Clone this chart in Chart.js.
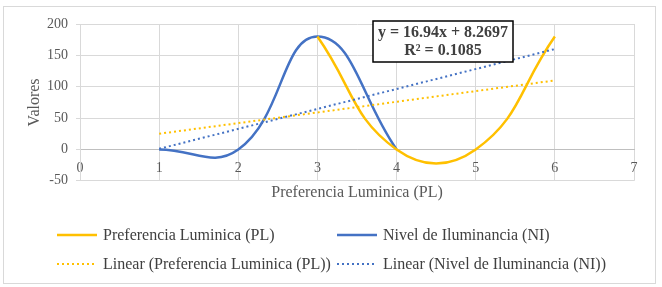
<!DOCTYPE html>
<html>
<head>
<meta charset="utf-8">
<script src="https://cdn.jsdelivr.net/npm/chart.js@4"></script>
<style>
  html, body { margin: 0; padding: 0; background: #fff; }
  #wrap { width: 662px; height: 287px; }
</style>
</head>
<body>
<div id="wrap"><canvas id="lumChart" width="662" height="287"></canvas></div>
<script>
const plX = [3, 4, 5, 6]
const plY = [180, 0, 0, 180]
const niX = [1, 2, 3, 4]
const niY = [0, 0, 180, 0]
const trendX = [1, 6]
const plTrend = [25, 110]
const niTrend = [1, 160]
const xTicks = [0, 1, 2, 3, 4, 5, 6, 7]
const yTicks = [-50, 0, 50, 100, 150, 200]
const seriesNames = ['Preferencia Luminica (PL)', 'Nivel de Iluminancia (NI)']
const trendText = ['y = 16.94x + 8.2697', 'R² = 0.1085']

document.addEventListener("DOMContentLoaded", function() {
    const ctx = document.getElementById("lumChart")
    const serif = "'Liberation Serif', 'Times New Roman', serif"
    const textColor = '#595959'
    const gridColor = '#d9d9d9'

    const toPoints = (xs, ys) => xs.map((x, i) => ({ x: x, y: ys[i] }))

    // legend slots: 2 columns x 2 rows, like the Excel legend
    const legendSlots = [[57, 235], [337, 235], [57, 264], [337, 264]]

    const frame = {
        id: 'frame',
        beforeDraw(chart) {
            const c = chart.ctx
            c.save()
            c.fillStyle = '#fff'
            c.fillRect(0, 0, chart.width, chart.height)
            c.strokeStyle = gridColor
            c.lineWidth = 1
            c.strokeRect(3.5, 6.5, 652, 277)
            c.restore()
        }
    }

    const eqBox = {
        id: 'eqBox',
        afterDatasetsDraw(chart) {
            const c = chart.ctx
            c.save()
            c.fillStyle = '#fff'
            c.fillRect(373, 21, 140, 41)
            c.strokeStyle = '#000'
            c.lineWidth = 1.5
            c.strokeRect(373, 21, 140, 41)
            c.fillStyle = '#404040'
            c.font = "bold 16px " + serif
            c.textAlign = 'center'
            c.textBaseline = 'middle'
            c.fillText(trendText[0], 443, 33)
            c.fillText(trendText[1], 443, 51)
            c.restore()
        }
    }

    const sideLegend = {
        id: 'sideLegend',
        afterDraw(chart) {
            const c = chart.ctx
            c.save()
            chart.data.datasets.forEach((ds, i) => {
                const [x, y] = legendSlots[i]
                c.strokeStyle = ds.borderColor
                c.lineWidth = ds.borderWidth
                c.setLineDash(ds.borderDash || [])
                c.beginPath()
                c.moveTo(x, y)
                c.lineTo(x + 40, y)
                c.stroke()
                c.setLineDash([])
                c.fillStyle = '#404040'
                c.font = "16px " + serif
                c.textAlign = 'left'
                c.textBaseline = 'middle'
                c.fillText(ds.label, x + 46, y + 1)
            })
            c.restore()
        }
    }

    const data = {
        datasets: [
            {
                label: seriesNames[0],
                data: toPoints(plX, plY),
                borderColor: '#FFC000',
                backgroundColor: '#FFC000',
                borderWidth: 2.5,
                pointRadius: 0,
                tension: 0.45,
                xAxisID: 'x',
                order: 2
            },
            {
                label: seriesNames[1],
                data: toPoints(niX, niY),
                borderColor: '#4472C4',
                backgroundColor: '#4472C4',
                borderWidth: 2.5,
                pointRadius: 0,
                tension: 0.45,
                xAxisID: 'x',
                order: 3
            },
            {
                label: 'Linear (' + seriesNames[0] + ')',
                data: toPoints(trendX, plTrend),
                borderColor: '#FFC000',
                borderWidth: 2,
                borderDash: [2, 3],
                pointRadius: 0,
                xAxisID: 'x',
                order: 1
            },
            {
                label: 'Linear (' + seriesNames[1] + ')',
                data: toPoints(trendX, niTrend),
                borderColor: '#4472C4',
                borderWidth: 2,
                borderDash: [2, 3],
                pointRadius: 0,
                xAxisID: 'x',
                order: 0
            }
        ]
    }

    const config = {
        type: 'line',
        data: data,
        options: {
            responsive: false,
            animation: false,
            layout: {
                padding: { left: 0, right: 28, top: 24, bottom: 85 }
            },
            scales: {
                x: {
                    type: 'linear',
                    min: 0,
                    max: 7,
                    position: { y: 0 },
                    afterBuildTicks: (scale) => { scale.ticks = xTicks.map(v => ({ value: v })) },
                    grid: {
                        color: gridColor,
                        drawTicks: false
                    },
                    border: {
                        color: '#bfbfbf'
                    },
                    ticks: {
                        color: textColor,
                        padding: 10,
                        font: { size: 14, family: serif }
                    }
                },
                x2: {
                    type: 'linear',
                    position: 'bottom',
                    grid: { display: false, drawTicks: false },
                    border: { display: false },
                    ticks: { display: false },
                    title: {
                        display: true,
                        text: seriesNames[0],
                        color: textColor,
                        padding: { top: 2, bottom: 0 },
                        font: { size: 16, family: serif }
                    }
                },
                y: {
                    min: -50,
                    max: 200,
                    afterBuildTicks: (scale) => { scale.ticks = yTicks.map(v => ({ value: v })) },
                    afterFit: (scale) => { scale.width = 80 },
                    grid: {
                        color: gridColor,
                        tickLength: 4
                    },
                    border: {
                        color: gridColor
                    },
                    ticks: {
                        color: textColor,
                        padding: 8,
                        font: { size: 14, family: serif }
                    },
                    title: {
                        display: true,
                        text: 'Valores',
                        color: textColor,
                        padding: { top: 25, bottom: 0 },
                        font: { size: 16, family: serif }
                    }
                }
            },
            plugins: {
                legend: { display: false },
                tooltip: { enabled: false }
            }
        },
        plugins: [frame, eqBox, sideLegend]
    }

    new Chart(ctx, config)
});
</script>
</body>
</html>
